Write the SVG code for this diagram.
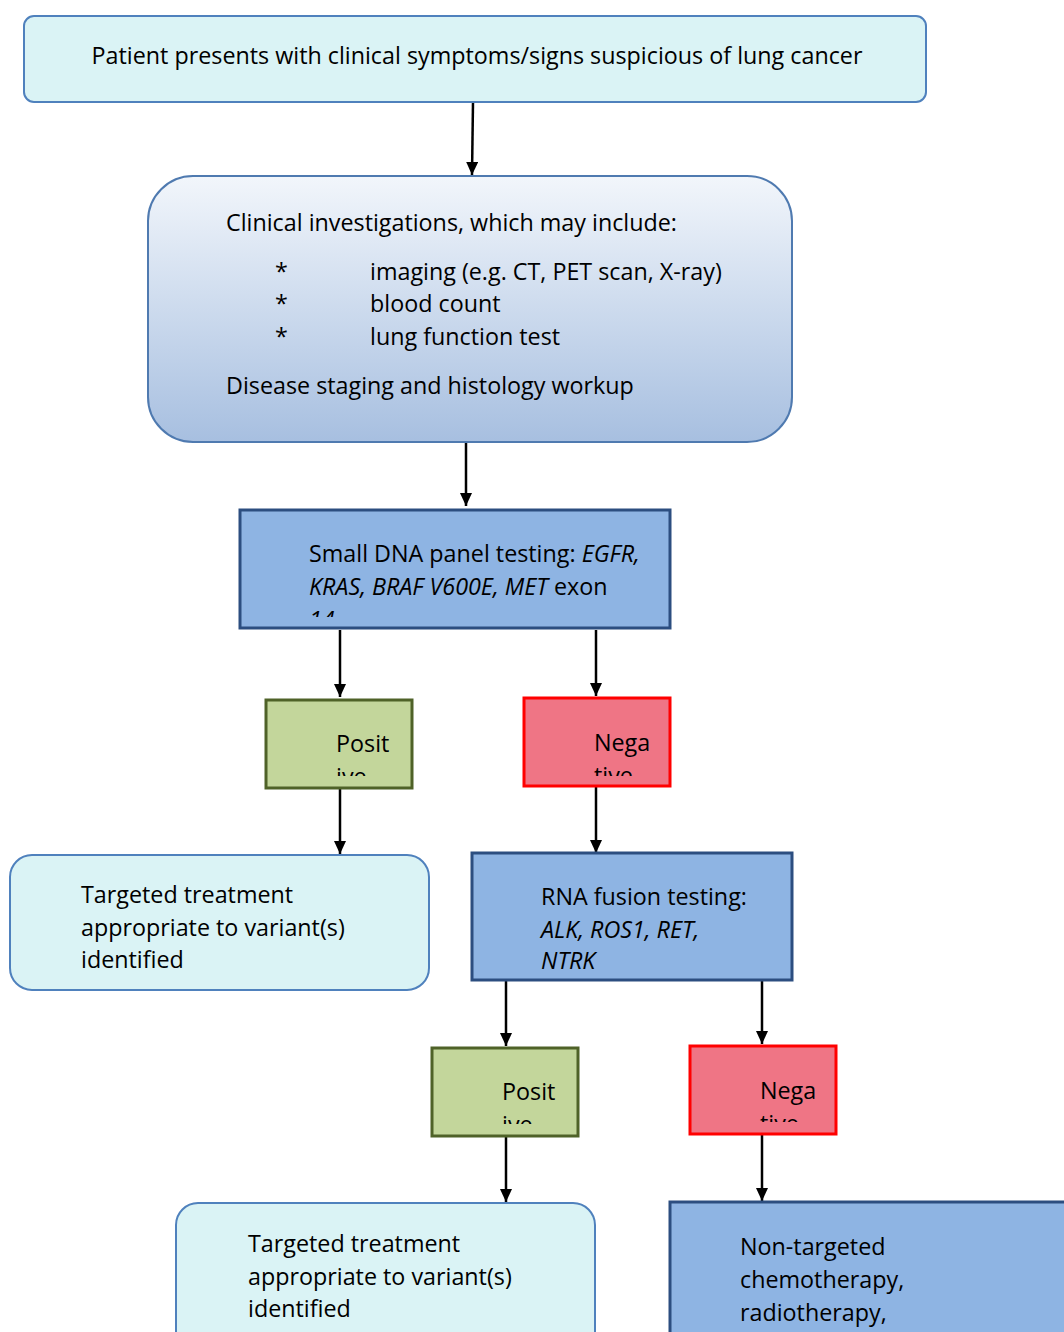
<svg xmlns="http://www.w3.org/2000/svg" width="1064" height="1332" viewBox="0 0 1064 1332">
<defs>
<linearGradient id="g1" x1="0" y1="0" x2="0" y2="1">
<stop offset="0" stop-color="#F2F6FB"/>
<stop offset="1" stop-color="#A7BFE0"/>
</linearGradient>
<marker id="ah" markerWidth="14" markerHeight="14" refX="13" refY="6" orient="auto" markerUnits="userSpaceOnUse">
<path d="M0,0 L13,6 L0,12 Z" fill="#000"/>
</marker>
<clipPath id="c3"><rect x="241" y="511" width="428" height="106"/></clipPath>
<clipPath id="cp1"><rect x="267" y="701" width="144" height="75"/></clipPath>
<clipPath id="cn1"><rect x="525" y="699" width="144" height="77"/></clipPath>
<clipPath id="cp2"><rect x="433" y="1049" width="144" height="75"/></clipPath>
<clipPath id="cn2"><rect x="691" y="1047" width="144" height="75"/></clipPath>
</defs>
<style>
text{font-family:"Open Sans","Noto Sans","Liberation Sans",sans-serif;font-size:23.3px;fill:#000}
.it{font-style:italic}
.lt{fill:#DAF3F5;stroke:#4F81BD;stroke-width:2}
.bl{fill:#8EB4E3;stroke:#2C4E80;stroke-width:3}
.pos{fill:#C3D69B;stroke:#4F6228;stroke-width:3}
.neg{fill:#EF7585;stroke:#FF0000;stroke-width:3}
.ed{stroke:#000;stroke-width:2.5;fill:none;marker-end:url(#ah)}
</style>
<g id="connectors">
<line class="ed" x1="473" y1="102" x2="472" y2="175"/>
<line class="ed" x1="466" y1="442" x2="466" y2="506"/>
<line class="ed" x1="340" y1="630" x2="340" y2="697"/>
<line class="ed" x1="596" y1="630" x2="596" y2="696"/>
<line class="ed" x1="340" y1="789" x2="340" y2="854"/>
<line class="ed" x1="596" y1="787" x2="596" y2="853"/>
<line class="ed" x1="506" y1="981" x2="506" y2="1046"/>
<line class="ed" x1="762" y1="981" x2="762" y2="1044"/>
<line class="ed" x1="506" y1="1137" x2="506" y2="1202"/>
<line class="ed" x1="762" y1="1135" x2="762" y2="1201"/>
</g>
<g id="n1">
<rect class="lt" x="24" y="16" width="902" height="86" rx="10"/>
<text x="477" y="64" text-anchor="middle">Patient presents with clinical symptoms/signs suspicious of lung cancer</text>
</g>
<g id="n2">
<rect x="148" y="176" width="644" height="266" rx="45" fill="url(#g1)" stroke="#4F7AB0" stroke-width="2"/>
<text x="226" y="231">Clinical investigations, which may include:</text>
<text x="275" y="280">*</text><text x="370" y="280">imaging (e.g. CT, PET scan, X-ray)</text>
<text x="275" y="312">*</text><text x="370" y="312">blood count</text>
<text x="275" y="345">*</text><text x="370" y="345">lung function test</text>
<text x="226" y="394">Disease staging and histology workup</text>
</g>
<g id="n3">
<rect class="bl" x="240" y="510" width="430" height="118"/>
<g clip-path="url(#c3)">
<text x="309" y="562">Small DNA panel testing: <tspan class="it">EGFR,</tspan></text>
<text x="309" y="595"><tspan class="it">KRAS, BRAF V600E, MET</tspan> exon</text>
<text x="309" y="628" class="it">14</text>
</g>
</g>
<g id="n4">
<rect class="pos" x="266" y="700" width="146" height="88"/>
<g clip-path="url(#cp1)">
<text x="336" y="752">Posit</text>
<text x="336" y="785">ive</text>
</g>
</g>
<g id="n5">
<rect class="neg" x="524" y="698" width="146" height="88"/>
<g clip-path="url(#cn1)">
<text x="594" y="751">Nega</text>
<text x="594" y="784">tive</text>
</g>
</g>
<g id="n6">
<rect class="lt" x="10" y="855" width="419" height="135" rx="22"/>
<text x="81" y="903">Targeted treatment</text>
<text x="81" y="936">appropriate to variant(s)</text>
<text x="81" y="968">identified</text>
</g>
<g id="n7">
<rect class="bl" x="472" y="853" width="320" height="127"/>
<text x="541" y="905">RNA fusion testing:</text>
<text x="541" y="938" class="it">ALK, ROS1, RET,</text>
<text x="541" y="969" class="it">NTRK</text>
</g>
<g id="n8">
<rect class="pos" x="432" y="1048" width="146" height="88"/>
<g clip-path="url(#cp2)">
<text x="502" y="1100">Posit</text>
<text x="502" y="1133">ive</text>
</g>
</g>
<g id="n9">
<rect class="neg" x="690" y="1046" width="146" height="88"/>
<g clip-path="url(#cn2)">
<text x="760" y="1099">Nega</text>
<text x="760" y="1132">tive</text>
</g>
</g>
<g id="n10">
<rect class="lt" x="176" y="1203" width="419" height="150" rx="22"/>
<text x="248" y="1252">Targeted treatment</text>
<text x="248" y="1285">appropriate to variant(s)</text>
<text x="248" y="1317">identified</text>
</g>
<g id="n11">
<rect class="bl" x="670" y="1202" width="420" height="160"/>
<text x="740" y="1255">Non-targeted</text>
<text x="740" y="1288">chemotherapy,</text>
<text x="740" y="1321">radiotherapy,</text>
</g>
</svg>
